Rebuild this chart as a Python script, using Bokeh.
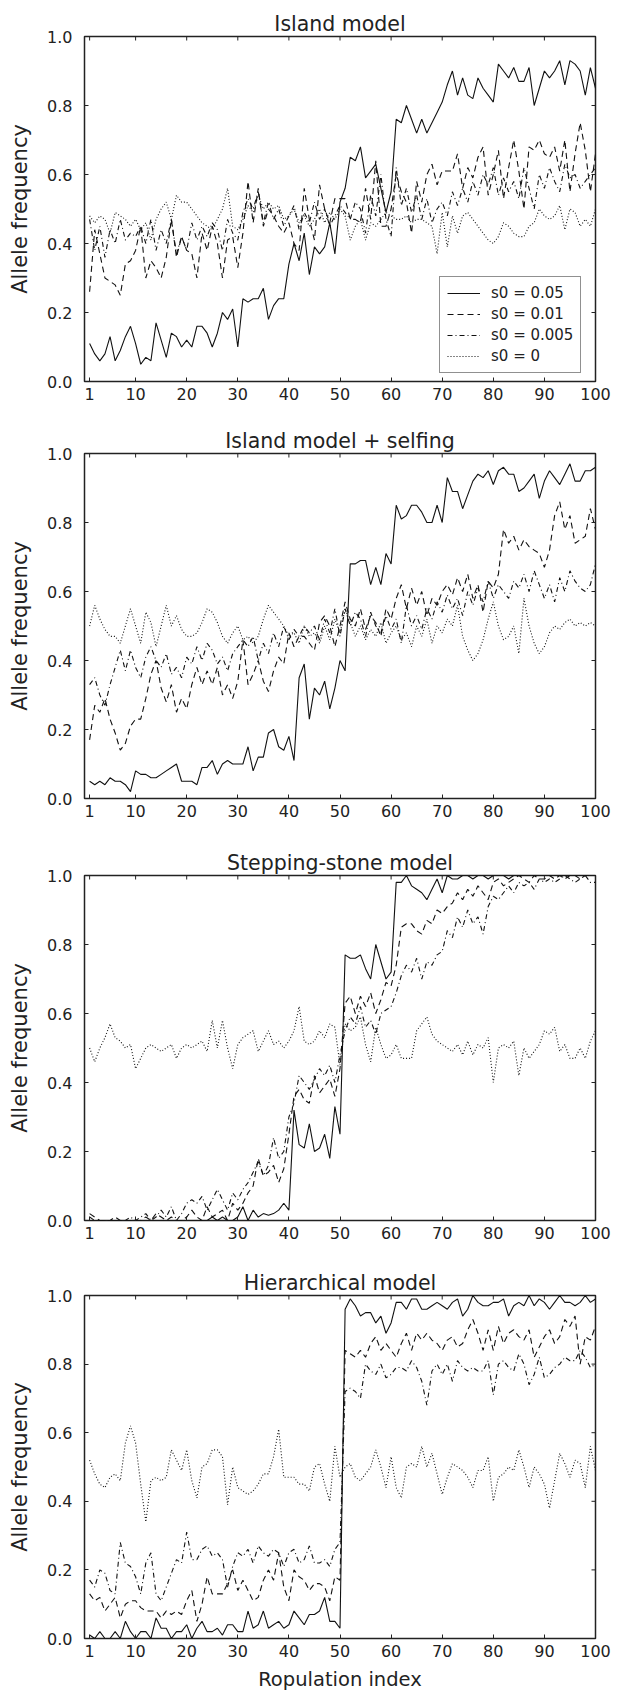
import math
from bokeh.plotting import figure
from bokeh.models import Range1d, FixedTicker, NumeralTickFormatter, Legend, LegendItem
from bokeh.layouts import column
from bokeh.embed import file_html
from bokeh.resources import INLINE

population = list(range(1, 101))
panel_titles = ["Island model", "Island model + selfing", "Stepping-stone model", "Hierarchical model"]
series_labels = ["s0 = 0.05", "s0 = 0.01", "s0 = 0.005", "s0 = 0"]
x_ticks = [1, 10, 20, 30, 40, 50, 60, 70, 80, 90, 100]
y_ticks = [0.0, 0.2, 0.4, 0.6, 0.8, 1.0]
x_label = "Ropulation index"
y_label = "Allele frequency"

# ---------------- Island model ----------------
island_s005 = [0.11,0.08,0.06,0.08,0.13,0.06,0.09,0.13,0.16,0.11,
               0.05,0.07,0.06,0.17,0.12,0.07,0.14,0.13,0.10,0.12,
               0.10,0.16,0.16,0.14,0.10,0.14,0.20,0.18,0.21,0.10,
               0.24,0.23,0.24,0.24,0.27,0.18,0.22,0.24,0.24,0.34,
               0.40,0.35,0.43,0.31,0.39,0.37,0.39,0.46,0.37,0.52,
               0.56,0.65,0.64,0.68,0.59,0.61,0.63,0.56,0.49,0.55,
               0.76,0.75,0.80,0.76,0.72,0.76,0.72,0.75,0.78,0.81,
               0.86,0.90,0.83,0.88,0.83,0.82,0.88,0.85,0.83,0.81,
               0.92,0.90,0.88,0.91,0.87,0.87,0.91,0.80,0.85,0.90,
               0.88,0.90,0.93,0.86,0.93,0.92,0.90,0.83,0.91,0.85]
island_s001 = [0.26,0.44,0.37,0.30,0.29,0.28,0.25,0.34,0.35,0.38,
               0.45,0.30,0.35,0.33,0.30,0.36,0.47,0.36,0.42,0.38,
               0.37,0.30,0.43,0.38,0.45,0.40,0.30,0.41,0.42,0.33,
               0.43,0.58,0.46,0.56,0.45,0.50,0.48,0.45,0.43,0.46,
               0.40,0.38,0.56,0.47,0.41,0.57,0.50,0.46,0.53,0.53,
               0.53,0.47,0.47,0.46,0.56,0.47,0.64,0.45,0.45,0.50,
               0.60,0.55,0.52,0.43,0.58,0.52,0.60,0.63,0.57,0.61,
               0.61,0.61,0.66,0.56,0.62,0.59,0.65,0.68,0.54,0.60,
               0.67,0.53,0.62,0.70,0.61,0.50,0.68,0.67,0.70,0.66,
               0.65,0.68,0.61,0.70,0.55,0.66,0.75,0.67,0.55,0.66]
island_s0005 = [0.47,0.38,0.45,0.36,0.44,0.40,0.47,0.41,0.43,0.42,
                0.45,0.40,0.47,0.38,0.44,0.40,0.47,0.37,0.42,0.38,
                0.46,0.41,0.45,0.42,0.46,0.44,0.38,0.47,0.43,0.41,
                0.49,0.53,0.50,0.55,0.46,0.52,0.47,0.50,0.45,0.48,
                0.51,0.44,0.49,0.46,0.52,0.47,0.50,0.45,0.48,0.51,
                0.49,0.47,0.52,0.50,0.43,0.54,0.48,0.60,0.47,0.42,
                0.62,0.51,0.56,0.49,0.54,0.47,0.53,0.46,0.50,0.52,
                0.48,0.55,0.51,0.56,0.52,0.58,0.54,0.60,0.57,0.62,
                0.54,0.59,0.55,0.58,0.53,0.62,0.56,0.50,0.60,0.56,
                0.62,0.58,0.55,0.63,0.59,0.60,0.56,0.58,0.60,0.62]
island_s0 = [0.48,0.46,0.48,0.47,0.43,0.49,0.48,0.47,0.45,0.47,
             0.44,0.46,0.41,0.47,0.50,0.52,0.47,0.54,0.52,0.52,
             0.50,0.48,0.46,0.45,0.44,0.47,0.50,0.56,0.45,0.44,
             0.47,0.51,0.49,0.54,0.50,0.52,0.50,0.51,0.47,0.48,
             0.50,0.46,0.48,0.45,0.47,0.50,0.46,0.49,0.47,0.50,
             0.48,0.41,0.45,0.47,0.41,0.46,0.45,0.47,0.49,0.48,
             0.47,0.47,0.48,0.46,0.47,0.47,0.46,0.45,0.37,0.49,
             0.39,0.48,0.43,0.48,0.49,0.47,0.45,0.43,0.41,0.40,
             0.42,0.46,0.45,0.43,0.42,0.42,0.45,0.46,0.50,0.48,
             0.47,0.48,0.51,0.44,0.50,0.49,0.45,0.47,0.45,0.50]

# ---------------- Island model + selfing ----------------
selfing_s005 = [0.05,0.04,0.05,0.04,0.06,0.05,0.05,0.04,0.02,0.08,
                0.07,0.07,0.06,0.06,0.07,0.08,0.09,0.10,0.05,0.05,
                0.05,0.04,0.09,0.09,0.11,0.07,0.10,0.11,0.10,0.10,
                0.10,0.15,0.08,0.12,0.12,0.19,0.20,0.15,0.14,0.18,
                0.11,0.35,0.39,0.23,0.32,0.30,0.34,0.26,0.32,0.40,
                0.37,0.68,0.68,0.69,0.69,0.62,0.67,0.62,0.71,0.68,
                0.85,0.81,0.82,0.85,0.85,0.83,0.80,0.80,0.85,0.80,
                0.93,0.89,0.89,0.84,0.88,0.92,0.94,0.93,0.95,0.91,
                0.95,0.96,0.94,0.94,0.89,0.90,0.92,0.94,0.87,0.92,
                0.95,0.93,0.91,0.94,0.97,0.92,0.92,0.95,0.95,0.96]
selfing_s001 = [0.17,0.27,0.25,0.29,0.23,0.19,0.14,0.16,0.21,0.23,
                0.23,0.29,0.36,0.40,0.32,0.28,0.33,0.25,0.29,0.26,
                0.33,0.38,0.33,0.37,0.33,0.38,0.30,0.33,0.29,0.34,
                0.46,0.33,0.36,0.40,0.34,0.31,0.37,0.41,0.39,0.48,
                0.44,0.47,0.47,0.45,0.43,0.51,0.53,0.50,0.44,0.50,
                0.57,0.52,0.50,0.55,0.49,0.53,0.51,0.47,0.55,0.52,
                0.58,0.62,0.55,0.61,0.56,0.60,0.53,0.58,0.56,0.60,
                0.62,0.59,0.64,0.60,0.65,0.58,0.62,0.54,0.63,0.61,
                0.65,0.78,0.74,0.76,0.72,0.75,0.73,0.72,0.71,0.67,
                0.72,0.82,0.86,0.78,0.82,0.74,0.75,0.76,0.84,0.78]
selfing_s0005 = [0.33,0.35,0.30,0.27,0.33,0.38,0.43,0.37,0.43,0.38,
                 0.35,0.41,0.44,0.40,0.38,0.42,0.36,0.38,0.35,0.41,
                 0.39,0.44,0.40,0.45,0.43,0.39,0.41,0.37,0.42,0.44,
                 0.46,0.44,0.47,0.40,0.45,0.42,0.48,0.44,0.50,0.46,
                 0.49,0.47,0.50,0.48,0.50,0.46,0.52,0.48,0.55,0.47,
                 0.55,0.50,0.54,0.52,0.47,0.54,0.50,0.48,0.53,0.49,
                 0.52,0.45,0.56,0.50,0.53,0.49,0.55,0.52,0.57,0.54,
                 0.59,0.55,0.58,0.53,0.60,0.56,0.61,0.57,0.63,0.58,
                 0.62,0.60,0.58,0.63,0.61,0.65,0.60,0.66,0.62,0.58,
                 0.62,0.57,0.64,0.60,0.66,0.63,0.61,0.60,0.62,0.68]
selfing_s0 = [0.50,0.56,0.52,0.49,0.47,0.47,0.45,0.50,0.55,0.50,
              0.45,0.54,0.51,0.44,0.50,0.56,0.50,0.53,0.49,0.47,
              0.47,0.48,0.51,0.55,0.54,0.51,0.47,0.45,0.48,0.50,
              0.46,0.47,0.45,0.47,0.52,0.56,0.54,0.52,0.50,0.47,
              0.48,0.45,0.50,0.47,0.48,0.45,0.50,0.46,0.52,0.48,
              0.55,0.51,0.47,0.50,0.46,0.49,0.47,0.51,0.45,0.48,
              0.50,0.46,0.48,0.44,0.50,0.47,0.52,0.45,0.50,0.48,
              0.52,0.50,0.56,0.47,0.43,0.40,0.42,0.46,0.52,0.57,
              0.50,0.46,0.47,0.50,0.42,0.58,0.50,0.45,0.42,0.44,
              0.48,0.50,0.49,0.51,0.52,0.50,0.51,0.50,0.51,0.50]

# ---------------- Stepping-stone model ----------------
stepping_s005 = [0.00,0.00,0.00,0.00,0.00,0.00,0.00,0.00,0.00,0.00,
                 0.00,0.00,0.00,0.00,0.00,0.00,0.00,0.00,0.00,0.00,
                 0.00,0.00,0.00,0.00,0.01,0.00,0.01,0.00,0.00,0.01,
                 0.04,0.00,0.03,0.01,0.02,0.015,0.02,0.03,0.05,0.03,
                 0.32,0.22,0.21,0.28,0.20,0.21,0.25,0.18,0.33,0.25,
                 0.77,0.76,0.76,0.77,0.73,0.70,0.80,0.75,0.70,0.72,
                 0.98,0.98,1.00,0.97,0.96,0.95,0.93,0.96,0.99,0.95,
                 1.00,0.99,0.99,1.00,1.00,0.99,1.00,1.00,0.99,1.00,
                 1.00,1.00,0.99,1.00,1.00,1.00,1.00,1.00,1.00,1.00,
                 1.00,1.00,1.00,1.00,1.00,1.00,1.00,1.00,1.00,1.00]
stepping_s001 = [0.02,0.01,0.00,0.00,0.00,0.01,0.00,0.00,0.00,0.00,
                 0.00,0.01,0.00,0.02,0.01,0.00,0.01,0.00,0.00,0.01,
                 0.03,0.01,0.00,0.04,0.01,0.02,0.03,0.00,0.05,0.03,
                 0.05,0.08,0.10,0.18,0.13,0.14,0.16,0.11,0.15,0.25,
                 0.36,0.38,0.35,0.34,0.42,0.37,0.39,0.41,0.36,0.44,
                 0.63,0.65,0.60,0.65,0.62,0.66,0.60,0.64,0.69,0.68,
                 0.74,0.85,0.86,0.86,0.84,0.83,0.87,0.86,0.90,0.89,
                 0.91,0.92,0.95,0.93,0.96,0.94,0.97,0.95,0.93,0.98,
                 0.99,0.97,0.98,0.99,1.00,0.99,0.98,1.00,0.99,0.99,
                 1.00,0.99,1.00,0.99,1.00,1.00,0.99,1.00,1.00,1.00]
stepping_s0005 = [0.01,0.00,0.00,0.00,0.00,0.00,0.00,0.00,0.01,0.00,
                  0.01,0.02,0.00,0.01,0.03,0.01,0.04,0.00,0.02,0.05,
                  0.06,0.05,0.07,0.03,0.06,0.09,0.06,0.03,0.08,0.06,
                  0.09,0.11,0.14,0.17,0.13,0.16,0.24,0.18,0.20,0.30,
                  0.34,0.42,0.40,0.38,0.41,0.44,0.42,0.45,0.40,0.48,
                  0.55,0.59,0.57,0.62,0.56,0.58,0.54,0.60,0.61,0.62,
                  0.66,0.71,0.74,0.72,0.76,0.70,0.75,0.74,0.77,0.78,
                  0.84,0.82,0.88,0.85,0.90,0.86,0.88,0.83,0.91,0.94,
                  0.93,0.95,0.97,0.95,0.98,0.97,0.98,0.96,0.99,0.98,
                  0.99,0.98,0.99,1.00,0.99,0.98,0.99,1.00,0.98,0.98]
stepping_s0 = [0.50,0.46,0.50,0.53,0.57,0.53,0.52,0.50,0.51,0.44,
               0.47,0.50,0.51,0.50,0.49,0.50,0.51,0.47,0.50,0.51,
               0.50,0.51,0.52,0.49,0.58,0.50,0.58,0.50,0.44,0.51,
               0.53,0.54,0.55,0.49,0.52,0.55,0.51,0.52,0.50,0.52,
               0.55,0.62,0.52,0.51,0.52,0.55,0.53,0.57,0.56,0.45,
               0.57,0.55,0.56,0.59,0.51,0.46,0.56,0.51,0.47,0.48,
               0.51,0.47,0.47,0.47,0.55,0.57,0.59,0.54,0.52,0.51,
               0.50,0.49,0.51,0.48,0.52,0.48,0.51,0.50,0.53,0.40,
               0.50,0.51,0.50,0.52,0.42,0.50,0.47,0.49,0.51,0.55,
               0.54,0.56,0.49,0.51,0.47,0.47,0.50,0.47,0.52,0.55]

# ---------------- Hierarchical model ----------------
hier_s005 = [0.01,0.00,0.02,0.00,0.00,0.02,0.00,0.05,0.02,0.00,
             0.02,0.02,0.00,0.06,0.03,0.03,0.00,0.02,0.02,0.04,
             0.00,0.03,0.05,0.02,0.02,0.03,0.01,0.04,0.04,0.02,
             0.02,0.08,0.03,0.04,0.08,0.03,0.04,0.05,0.03,0.04,
             0.08,0.06,0.04,0.07,0.07,0.08,0.12,0.05,0.05,0.03,
             0.96,0.99,0.97,0.94,0.95,0.95,0.92,0.94,0.89,0.92,
             0.98,0.98,0.96,0.99,0.99,0.96,0.96,0.97,0.98,0.97,
             0.96,0.98,0.99,0.94,0.96,1.00,0.98,0.97,0.97,0.98,
             0.98,0.99,0.94,0.97,0.98,0.97,1.00,0.97,0.99,0.98,
             0.96,0.98,1.00,0.98,0.98,0.97,0.98,1.00,0.98,0.99]
hier_s001 = [0.13,0.11,0.12,0.08,0.10,0.12,0.06,0.10,0.11,0.11,
             0.09,0.08,0.08,0.08,0.06,0.08,0.07,0.08,0.07,0.11,
             0.14,0.05,0.10,0.18,0.13,0.13,0.13,0.16,0.20,0.14,
             0.17,0.14,0.11,0.12,0.17,0.20,0.17,0.25,0.15,0.11,
             0.20,0.18,0.17,0.14,0.16,0.16,0.15,0.11,0.18,0.17,
             0.84,0.83,0.82,0.84,0.82,0.86,0.88,0.84,0.86,0.84,
             0.82,0.86,0.89,0.84,0.89,0.87,0.89,0.87,0.86,0.84,
             0.87,0.88,0.85,0.86,0.90,0.93,0.89,0.84,0.90,0.84,
             0.91,0.86,0.89,0.90,0.88,0.87,0.90,0.82,0.85,0.88,
             0.90,0.86,0.88,0.93,0.91,0.94,0.80,0.88,0.87,0.91]
hier_s0005 = [0.17,0.15,0.20,0.19,0.14,0.13,0.28,0.22,0.21,0.18,
              0.13,0.22,0.25,0.13,0.11,0.15,0.19,0.23,0.22,0.31,
              0.23,0.23,0.26,0.27,0.24,0.25,0.23,0.15,0.21,0.25,
              0.24,0.26,0.22,0.27,0.25,0.24,0.26,0.25,0.21,0.25,
              0.26,0.22,0.23,0.27,0.22,0.22,0.23,0.21,0.26,0.28,
              0.72,0.73,0.72,0.70,0.80,0.78,0.77,0.80,0.76,0.77,
              0.79,0.79,0.78,0.81,0.79,0.75,0.68,0.78,0.80,0.77,
              0.80,0.75,0.81,0.79,0.78,0.79,0.78,0.78,0.81,0.71,
              0.80,0.81,0.79,0.78,0.83,0.80,0.74,0.77,0.82,0.76,
              0.77,0.79,0.80,0.82,0.81,0.81,0.84,0.82,0.79,0.80]
hier_s0 = [0.52,0.48,0.45,0.44,0.47,0.48,0.46,0.57,0.62,0.57,
           0.45,0.34,0.46,0.47,0.46,0.47,0.55,0.52,0.49,0.55,
           0.46,0.41,0.50,0.51,0.55,0.55,0.53,0.39,0.50,0.44,
           0.43,0.42,0.43,0.45,0.48,0.48,0.53,0.61,0.47,0.47,
           0.47,0.45,0.45,0.43,0.50,0.51,0.45,0.40,0.56,0.47,
           0.50,0.51,0.47,0.46,0.48,0.50,0.55,0.50,0.44,0.53,
           0.44,0.41,0.50,0.51,0.50,0.56,0.50,0.54,0.48,0.42,
           0.47,0.51,0.50,0.49,0.47,0.44,0.49,0.49,0.53,0.40,
           0.47,0.48,0.50,0.49,0.55,0.50,0.44,0.50,0.48,0.45,
           0.38,0.46,0.54,0.51,0.47,0.52,0.51,0.44,0.56,0.49]

panels = [
    [island_s005, island_s001, island_s0005, island_s0],
    [selfing_s005, selfing_s001, selfing_s0005, selfing_s0],
    [stepping_s005, stepping_s001, stepping_s0005, stepping_s0],
    [hier_s005, hier_s001, hier_s0005, hier_s0],
]

dashes = ["solid", "6 4", "5 3 1 3", "1 2"]
FONT = "DejaVu Sans"
INK = "#222222"
heights = [417, 422, 420, 434]
bottoms = [36, 41, 39, 53]
TOP = 36


def style_axis(ax):
    ax.axis_line_color = None
    ax.major_tick_in = 4
    ax.major_tick_out = 0
    ax.major_tick_line_color = INK
    ax.major_tick_line_width = 1
    ax.minor_tick_line_color = None
    ax.major_label_text_font = FONT
    ax.major_label_text_color = INK
    ax.major_label_text_font_size = "16px"


figs = []
for i, (title, series) in enumerate(zip(panel_titles, panels)):
    p = figure(width=617, height=heights[i], x_range=Range1d(0, 100), y_range=Range1d(0, 1),
               output_backend="svg", toolbar_location=None,
               min_border_left=84, min_border_right=22, min_border_top=TOP,
               min_border_bottom=bottoms[i])
    p.grid.visible = False
    p.outline_line_color = INK
    p.outline_line_width = 1.5
    p.outline_line_alpha = 1.0
    p.background_fill_color = "white"
    p.border_fill_color = "white"

    p.title.text = title
    p.title.align = "center"
    p.title.text_font = FONT
    p.title.text_font_size = "20.5px"
    p.title.text_font_style = "normal"
    p.title.text_color = INK
    p.title.standoff = 1

    rends = []
    for ys, dash in zip(series, dashes):
        r = p.line(population, ys, line_color="#111111", line_width=1.1, line_dash=dash)
        rends.append(r)

    # mirrored inward ticks on the top and right spines
    p.ray(x=x_ticks, y=[y_ticks[-1]] * len(x_ticks), length=4, angle=-math.pi / 2,
          length_units="screen", line_color=INK, line_width=1)
    p.ray(x=[x_ticks[-1]] * len(y_ticks), y=y_ticks, length=4, angle=math.pi,
          length_units="screen", line_color=INK, line_width=1)

    xa = p.xaxis[0]
    xa.ticker = FixedTicker(ticks=x_ticks)
    style_axis(xa)
    xa.major_label_standoff = 6
    ya = p.yaxis[0]
    ya.ticker = FixedTicker(ticks=y_ticks)
    ya.formatter = NumeralTickFormatter(format="0.0")
    style_axis(ya)
    ya.major_label_standoff = 12
    ya.axis_label = y_label
    ya.axis_label_text_font = FONT
    ya.axis_label_text_font_size = "21px"
    ya.axis_label_text_font_style = "normal"
    ya.axis_label_text_color = INK
    ya.axis_label_standoff = 12

    if i == 3:
        xa.axis_label = x_label
        xa.axis_label_text_font = FONT
        xa.axis_label_text_font_size = "19.5px"
        xa.axis_label_text_font_style = "normal"
        xa.axis_label_text_color = INK
        xa.axis_label_standoff = 8

    if i == 0:
        legend = Legend(items=[LegendItem(label=lab, renderers=[r]) for lab, r in zip(series_labels, rends)],
                        location=(355, 8))
        legend.label_text_font = FONT
        legend.label_text_font_size = "15px"
        legend.label_text_color = INK
        legend.glyph_width = 33
        legend.glyph_height = 18
        legend.label_height = 18
        legend.label_standoff = 11
        legend.spacing = 3
        legend.padding = 7
        legend.margin = 0
        legend.border_line_color = INK
        legend.border_line_width = 1.2
        legend.background_fill_alpha = 1.0
        p.add_layout(legend, "center")

    figs.append(p)

layout = column(*figs)
open("out.html", "w").write(file_html(layout, INLINE))
